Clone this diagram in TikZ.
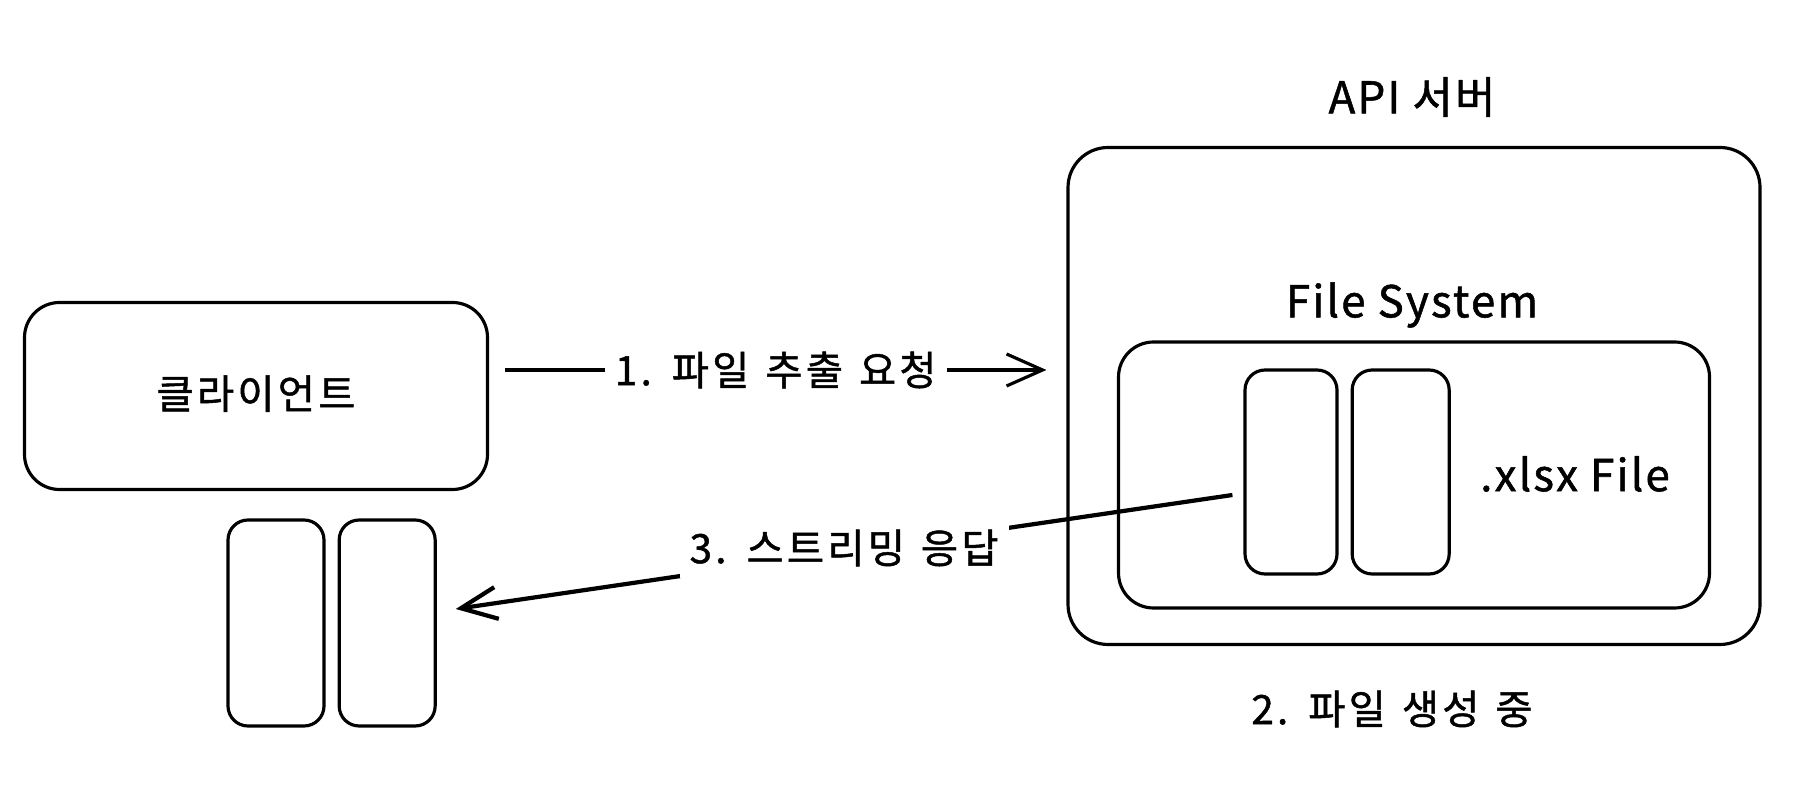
\documentclass[tikz,border=0pt]{standalone}
\usepackage{fontspec}
\setmainfont{Noto Sans CJK KR}
\newfontfamily\krfont{Noto Sans CJK KR}[FakeBold=1.2, LetterSpace=8, WordSpace=1.3]
\newfontfamily\latfont{Noto Sans CJK KR}[FakeBold=1.2, LetterSpace=5]
\usetikzlibrary{positioning,arrows.meta}

\begin{document}
\begin{tikzpicture}[x=0.1mm, y=-0.1mm,
  box/.style={draw, rounded corners=3.5mm, line width=0.9pt},
  doc/.style={draw, rounded corners=2mm, line width=0.9pt, minimum width=9.6mm, minimum height=20.6mm},
  txt/.style={font=\krfont\fontsize{11.5}{14}\selectfont},
  lat/.style={font=\latfont\fontsize{12.5}{15}\selectfont},
  arr/.style={-{Straight Barb[length=3.6mm, width=3.2mm]}, line width=0.9pt}
]
\useasboundingbox (0,0) rectangle (1812,800);

% client side
\node[box, minimum width=46.3mm, minimum height=18.7mm, txt] (client) at (256,396) {\raisebox{0.8mm}{클라이언트}};
\node[doc] (cfa) at (276,623) {};
\node[doc, right=1.2mm of cfa] (cfb) {};

% server side
\node[box, rounded corners=4mm, minimum width=69.2mm, minimum height=49.7mm] (server) at (1414,396) {};
\node[lat] (apilbl) at (1412,97) {API 서버};
\node[lat] (fslbl) at (1412,305) {File System};
\node[box, minimum width=59.1mm, minimum height=26.6mm] (fs) at (1414,475) {};
\node[doc, minimum width=9.2mm, minimum height=20.4mm] (fa) at (1291,472) {};
\node[doc, minimum width=9.7mm, minimum height=20.4mm, right=1.2mm of fa] (fb) {};
\node[lat] (xlsx) at (1575,474) {.xlsx File};
\node[txt] (gen) at (1392,709) {2. 파일 생성 중};

% request / response
\draw[arr] ([xshift=1.6mm, yshift=2.6mm]client.east) -- node[fill=white, txt, inner xsep=1mm] (req) {1. 파일 추출 요청} ([xshift=-2mm, yshift=2.6mm]server.west);
\draw[arr, line width=1.2pt] ([xshift=-1.1mm, yshift=-2.3mm]fa.west) -- node[fill=white, txt, inner xsep=1mm, yshift=0.4mm] (res) {3. 스트리밍 응답} ([xshift=1.9mm, yshift=1.4mm]cfb.east);
\end{tikzpicture}
\end{document}
